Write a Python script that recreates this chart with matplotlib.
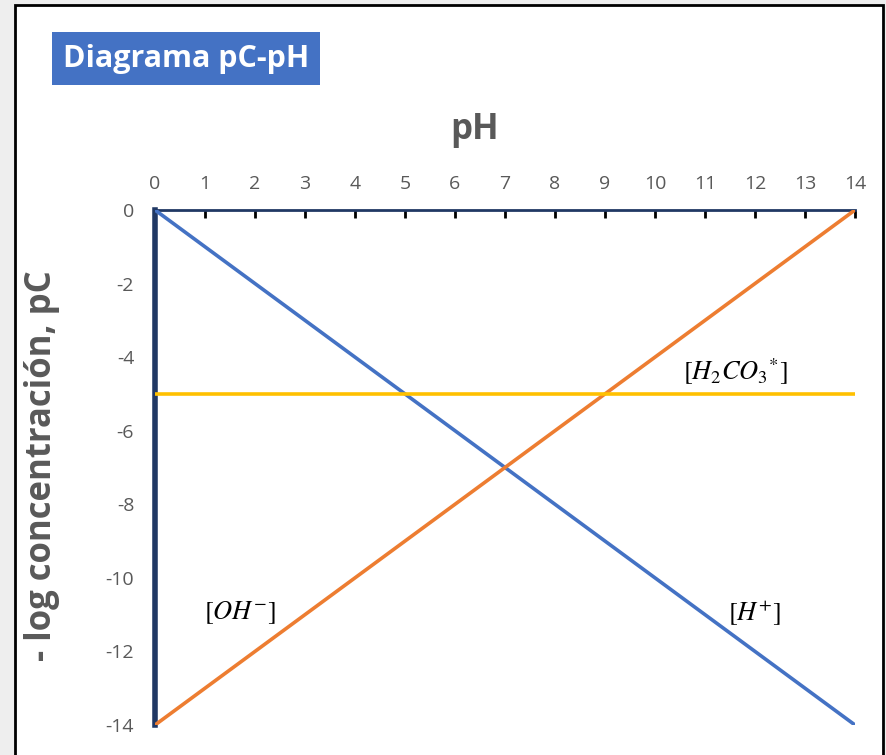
import matplotlib.pyplot as plt
from matplotlib.patches import Rectangle

# Data
ph = [0, 14]
pc_h = [0, -14]
pc_oh = [-14, 0]
pc_h2co3 = [-5, -5]
xticks = list(range(0, 15))
yticks = list(range(0, -15, -2))

plt.rcParams['mathtext.fontset'] = 'stix'

fig = plt.figure(figsize=(8.86, 7.55), dpi=100, facecolor='#eeeeee')
W, H = 886, 755

# white frame with black border
fig.patches.append(Rectangle((15 / W, -0.05), (883 - 15) / W, (755 - 5) / H + 0.05,
                             transform=fig.transFigure, facecolor='white',
                             edgecolor='black', linewidth=2, zorder=-10))

ax = fig.add_axes([155 / W, 1 - 725 / H, 700 / W, 515 / H], zorder=5)
ax.set_facecolor('none')

ax.plot(ph, pc_h, color='#4472C4', lw=2.6, solid_capstyle='butt', zorder=3)
ax.plot(ph, pc_oh, color='#ED7D31', lw=2.6, solid_capstyle='butt', zorder=3)
ax.plot(ph, pc_h2co3, color='#FFC000', lw=2.6, solid_capstyle='butt', zorder=3)

ax.set_xlim(0, 14)
ax.set_ylim(-14, 0)
ax.set_xticks(xticks)
ax.set_yticks(yticks)
ax.set_yticklabels([str(v) for v in yticks])

for s in ['right', 'bottom']:
    ax.spines[s].set_visible(False)
ax.spines['top'].set_color('#203864')
ax.spines['top'].set_linewidth(2)
ax.spines['left'].set_color('#203864')
ax.spines['left'].set_linewidth(4)
ax.spines['left'].set_capstyle('projecting')

ax.xaxis.tick_top()
ax.tick_params(axis='x', direction='in', length=6, width=2, color='black',
               labelsize=14, labelcolor='#595959', pad=12)
ax.tick_params(axis='y', length=0, labelsize=14, labelcolor='#595959', pad=15)
for lab in ax.get_xticklabels() + ax.get_yticklabels():
    lab.set_fontfamily('Open Sans')

ax.text(11.6, -4.4, r'$[H_2CO_3{}^{*}]$', fontsize=19, ha='center', va='center', color='black')
ax.text(1.7, -10.95, r'$[OH^{-}]$', fontsize=19, ha='center', va='center', color='black')
ax.text(12.0, -10.95, r'$[H^{+}]$', fontsize=19, ha='center', va='center', color='black')

# axis titles
fig.text(475 / W, 1 - 130 / H, 'pH', fontsize=25, fontweight='bold', color='#595959',
         family='Open Sans', ha='center', va='center')
fig.text(42 / W, 1 - 466 / H, '- log concentración, pC', fontsize=25, fontweight='bold',
         color='#595959', family='Open Sans', ha='center', va='center', rotation=90)

# title box
fig.patches.append(Rectangle((52 / W, 1 - 85 / H), 268 / W, 53 / H, transform=fig.transFigure,
                             facecolor='#4472C4', edgecolor='none', zorder=1))
fig.text(186 / W, 1 - 59 / H, 'Diagrama pC-pH', fontsize=22, fontweight='bold', color='white',
         family='Open Sans', ha='center', va='center', zorder=2)

fig.savefig('out.png', dpi=100, facecolor=fig.get_facecolor())
